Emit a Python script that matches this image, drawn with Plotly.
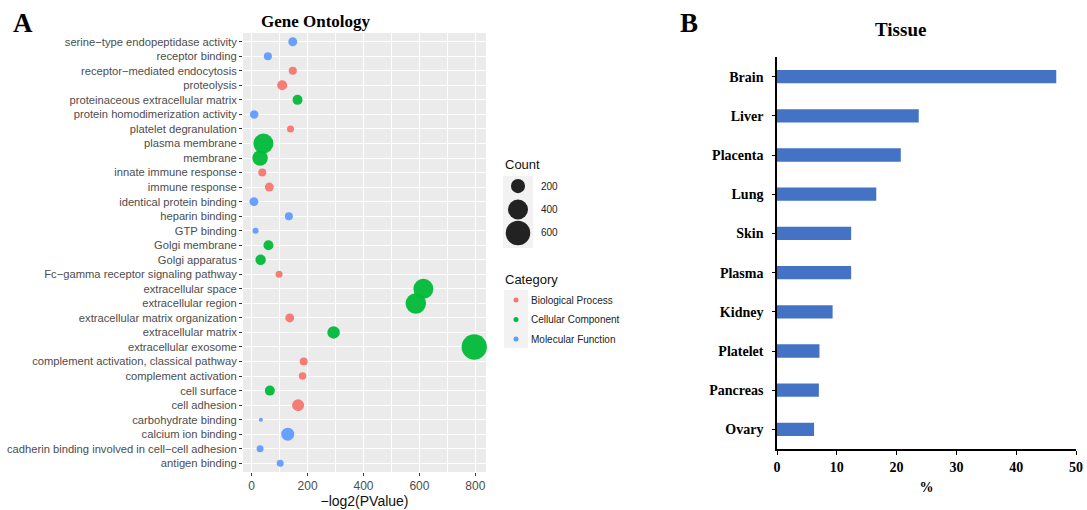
import plotly.graph_objects as go

W, H = 1087, 510
def px(x): return x / W
def py(y): return 1 - y / H

# ---------------- Data: Gene Ontology (top-to-bottom order) ----------------
go_terms = [
    "serine\u2212type endopeptidase activity", "receptor binding", "receptor\u2212mediated endocytosis",
    "proteolysis", "proteinaceous extracellular matrix", "protein homodimerization activity",
    "platelet degranulation", "plasma membrane", "membrane", "innate immune response",
    "immune response", "identical protein binding", "heparin binding", "GTP binding",
    "Golgi membrane", "Golgi apparatus", "Fc\u2212gamma receptor signaling pathway",
    "extracellular space", "extracellular region", "extracellular matrix organization",
    "extracellular matrix", "extracellular exosome", "complement activation, classical pathway",
    "complement activation", "cell surface", "cell adhesion", "carbohydrate binding",
    "calcium ion binding", "cadherin binding involved in cell\u2212cell adhesion", "antigen binding",
]
go_neglog2p = [147, 58, 147, 109, 164, 9, 139, 42, 30, 38,
               63, 8, 133, 14, 60, 32, 98, 614, 587, 136,
               293, 796, 186, 182, 65, 166, 33, 129, 30, 102]
go_count = [80, 65, 65, 100, 100, 72, 50, 400, 240, 64,
            80, 80, 64, 36, 100, 110, 49, 400, 420, 80,
            156, 640, 64, 56, 100, 144, 16, 170, 49, 49]
go_category = ["MF", "MF", "BP", "BP", "CC", "MF", "BP", "CC", "CC", "BP",
               "BP", "MF", "MF", "MF", "CC", "CC", "BP", "CC", "CC", "BP",
               "CC", "CC", "BP", "BP", "CC", "BP", "MF", "MF", "MF", "MF"]
cat_codes = ["BP", "CC", "MF"]
cat_names = ["Biological Process", "Cellular Component", "Molecular Function"]
cat_colors = ["#F8766D", "#00BA38", "#619CFF"]
size_legend_values = [200, 400, 600]
size_legend_labels = ["200", "400", "600"]

# ---------------- Data: Tissue ----------------
tissues = ["Brain", "Liver", "Placenta", "Lung", "Skin", "Plasma", "Kidney", "Platelet", "Pancreas", "Ovary"]
tissue_pct = [46.7, 23.7, 20.7, 16.6, 12.4, 12.4, 9.3, 7.1, 7.0, 6.2]

SIZEREF = 2.0
sans = "Arial, Liberation Sans, sans-serif"
serif = "Times New Roman, Liberation Serif, serif"

fig = go.Figure()

for code, name, col in zip(cat_codes, cat_names, cat_colors):
    idx = [i for i, c in enumerate(go_category) if c == code]
    fig.add_trace(go.Scatter(
        x=[go_neglog2p[i] for i in idx], y=[go_terms[i] for i in idx],
        mode="markers", name=name, showlegend=False, cliponaxis=False,
        marker=dict(size=[go_count[i] for i in idx], sizemode="area", sizeref=SIZEREF,
                    color=col, opacity=0.95, line=dict(width=0)),
        xaxis="x", yaxis="y"))

fig.add_trace(go.Bar(
    x=tissue_pct, y=tissues, orientation="h", width=0.34,
    marker=dict(color="#4472C4", line=dict(width=0)), showlegend=False,
    xaxis="x2", yaxis="y2"))

# size legend keys
fig.add_trace(go.Scatter(
    x=[0] * len(size_legend_values), y=size_legend_labels, mode="markers", showlegend=False,
    marker=dict(size=size_legend_values, sizemode="area", sizeref=SIZEREF, color="#222222",
                opacity=1, line=dict(width=0)), xaxis="x3", yaxis="y3", hoverinfo="skip"))
# category legend keys
fig.add_trace(go.Scatter(
    x=[0] * len(cat_names), y=cat_names, mode="markers", showlegend=False,
    marker=dict(size=5, color=cat_colors, opacity=1, line=dict(width=0)),
    xaxis="x4", yaxis="y4", hoverinfo="skip"))

hidden = dict(visible=False, showgrid=False, zeroline=False, fixedrange=True, automargin=False)

fig.update_layout(
    width=W, height=H, margin=dict(l=0, r=0, t=0, b=0, autoexpand=False),
    paper_bgcolor="white", plot_bgcolor="white", showlegend=False,
    xaxis=dict(domain=[px(243), px(486)], range=[-31, 838], anchor="y", automargin=False,
               tickmode="linear", tick0=0, dtick=200, showgrid=True, gridcolor="white", gridwidth=1.1,
               minor=dict(dtick=100, tick0=0, showgrid=True, gridcolor="white", gridwidth=0.5),
               zeroline=False, showline=False, ticks="outside", ticklen=3, tickcolor="#333333",
               tickfont=dict(family=sans, size=12, color="#4D4D4D"),
               title=dict(text="\u2212log2(PValue)", font=dict(family=sans, size=14, color="#111111"), standoff=1)),
    yaxis=dict(domain=[py(472), py(33)], anchor="x", type="category", automargin=False,
               categoryorder="array", categoryarray=go_terms, range=[29.6, -0.6],
               showgrid=True, gridcolor="white", gridwidth=1.1, zeroline=False, showline=False,
               ticks="outside", ticklen=3, tickcolor="#333333",
               tickfont=dict(family=sans, size=11.2, color="#4D4D4D")),
    xaxis2=dict(domain=[px(777), px(1076)], range=[0, 50], anchor="y2", automargin=False,
                tickvals=list(range(0, 51, 10)), ticktext=["<b>%d</b>" % v for v in range(0, 51, 10)],
                showgrid=False, zeroline=False, showline=True, linecolor="black", linewidth=1.5,
                ticks="outside", ticklen=4, tickcolor="black", tickwidth=1.2,
                tickfont=dict(family=serif, size=14, color="black"),
                title=dict(text="<b>%</b>", font=dict(family=serif, size=14, color="black"), standoff=9)),
    yaxis2=dict(domain=[py(449), py(57)], anchor="x2", type="category", automargin=False,
                categoryorder="array", categoryarray=tissues, range=[9.5, -0.5],
                showgrid=False, zeroline=False, showline=True, linecolor="black", linewidth=1.5,
                ticks="outside", ticklen=3, tickcolor="black", tickwidth=1.2, ticklabelstandoff=6,
                tickfont=dict(family=serif, size=14, color="black"),
                tickvals=tissues, ticktext=["<b>%s</b>" % t for t in tissues]),
    xaxis3=dict(domain=[px(503), px(533)], range=[-1, 1], anchor="y3", **hidden),
    yaxis3=dict(domain=[py(248), py(176)], anchor="x3", type="category",
                categoryorder="array", categoryarray=size_legend_labels, range=[2.64, -0.43], **hidden),
    xaxis4=dict(domain=[px(504), px(528)], range=[-1, 1], anchor="y4", **hidden),
    yaxis4=dict(domain=[py(348), py(290)], anchor="x4", type="category",
                categoryorder="array", categoryarray=cat_names, range=[2.46, -0.51], **hidden),
)

shapes = [
    dict(type="rect", xref="x domain", yref="y domain", x0=0, x1=1, y0=0, y1=1,
         fillcolor="#EBEBEB", line=dict(width=0), layer="below"),
    dict(type="rect", xref="x3 domain", yref="y3 domain", x0=0, x1=1, y0=0, y1=1,
         fillcolor="#F2F2F2", line=dict(width=0), layer="below"),
    dict(type="rect", xref="x4 domain", yref="y4 domain", x0=0, x1=1, y0=0, y1=1,
         fillcolor="#F2F2F2", line=dict(width=0), layer="below"),
]
fig.update_layout(shapes=shapes)

ann = [
    dict(text="<b>A</b>", x=px(23), y=py(23), font=dict(family=serif, size=27, color="black")),
    dict(text="<b>B</b>", x=px(689), y=py(23), font=dict(family=serif, size=27, color="black")),
    dict(text="<b>Gene Ontology</b>", x=px(316), y=py(22), font=dict(family=serif, size=17, color="black")),
    dict(text="<b>Tissue</b>", x=px(900), y=py(29), font=dict(family=serif, size=19, color="black")),
    dict(text="Count", x=px(503), y=py(165), xanchor="left", font=dict(family=sans, size=13, color="#111111")),
    dict(text="Category", x=px(503), y=py(279), xanchor="left", font=dict(family=sans, size=13, color="#111111")),
]
for lab, yy in zip(size_legend_labels, [186, 209.5, 233]):
    ann.append(dict(text=lab, x=px(539), y=py(yy), xanchor="left", font=dict(family=sans, size=10, color="#222222")))
for lab, yy in zip(cat_names, [300, 319.5, 339]):
    ann.append(dict(text=lab, x=px(529), y=py(yy), xanchor="left", font=dict(family=sans, size=10, color="#222222")))
for a in ann:
    a.update(xref="paper", yref="paper", showarrow=False, yanchor=a.get("yanchor", "middle"))
    a.setdefault("xanchor", "center")
fig.update_layout(annotations=ann)

fig.write_html("out.html", config={"displayModeBar": False},
               post_script="document.body.style.margin='0px';document.body.style.padding='0px';")
